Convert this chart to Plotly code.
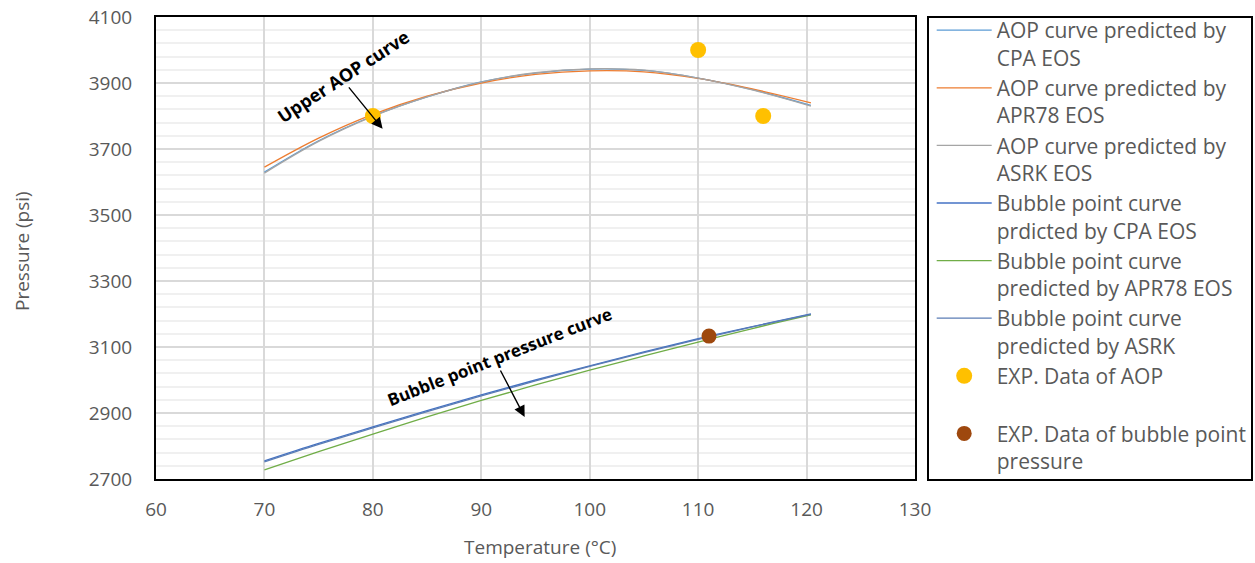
import plotly.graph_objects as go

# ---------------- data ----------------
temp = [70, 75, 80, 85, 90, 95, 100, 105, 110, 115, 120.4]

aop_cpa   = [3630, 3725, 3800, 3858, 3903, 3930, 3942, 3938, 3915, 3880, 3832]
aop_apr78 = [3645, 3733, 3805, 3860, 3900, 3926, 3937, 3934, 3914, 3882, 3840]
aop_asrk  = [3627, 3723, 3799, 3858, 3903, 3931, 3943, 3939, 3915, 3879, 3830]

bub_cpa   = [2755, 2808, 2858, 2907, 2955, 3000, 3043, 3085, 3125, 3162, 3200]
bub_apr78 = [2728, 2783, 2836, 2888, 2938, 2985, 3030, 3073, 3115, 3156, 3197]
bub_asrk  = [2752, 2805, 2855, 2904, 2952, 2997, 3041, 3083, 3123, 3161, 3199]

exp_aop_t = [80, 110, 116]
exp_aop_p = [3800, 4000, 3800]
exp_bub_t = [111]
exp_bub_p = [3133]

names = [
    "AOP curve predicted by<br>CPA EOS",
    "AOP curve predicted by<br>APR78 EOS",
    "AOP curve predicted by<br>ASRK EOS",
    "Bubble point curve<br>prdicted by CPA EOS",
    "Bubble point curve<br>predicted by APR78 EOS",
    "Bubble point curve<br>predicted by ASRK",
    "EXP. Data of AOP<br> ",
    "EXP. Data of bubble point<br>pressure",
]

FONT = "Open Sans"
TXT = "#595959"
fig = go.Figure()

line_series = [
    (aop_cpa, "#5B9BD5"),
    (aop_apr78, "#ED7D31"),
    (aop_asrk, "#A5A5A5"),
    (bub_cpa, "#4472C4"),
    (bub_apr78, "#70AD47"),
    (bub_asrk, "#5B7DB5"),
]
for i, (vals, col) in enumerate(line_series):
    fig.add_trace(go.Scatter(x=temp, y=vals, mode="lines", name=names[i],
                             line=dict(color=col, width=1.3, shape="spline"),
                             legendgroup=str(i)))

fig.add_trace(go.Scatter(x=exp_aop_t, y=exp_aop_p, mode="markers", name=names[6],
                         marker=dict(color="#FFC000", size=16), legendgroup="6"))
fig.add_trace(go.Scatter(x=exp_bub_t, y=exp_bub_p, mode="markers", name=names[7],
                         marker=dict(color="#9E480E", size=15), legendgroup="7"))

PW, PH = 759, 462
L, T = 156, 17
R = 1255 - L - PW
B = 563 - T - PH


def px_x(img_x):
    return (img_x - L) / PW


def px_y(img_y):
    return (563 - B - img_y) / PH


fig.update_layout(
    width=1255, height=563,
    margin=dict(l=L, r=R, t=T, b=B, autoexpand=False),
    paper_bgcolor="white", plot_bgcolor="white",
    font=dict(family=FONT, color=TXT, size=18),
    showlegend=True,
    legend=dict(x=1.022, y=1.015, xanchor="left", yanchor="top",
                font=dict(family=FONT, size=21, color=TXT),
                traceorder="grouped", tracegroupgap=0, itemwidth=55,
                valign="top", maxheight=560,
                bgcolor="rgba(0,0,0,0)"),
    xaxis=dict(range=[60, 130], tick0=60, dtick=10, showgrid=True,
               gridcolor="#D9D9D9", gridwidth=2, zeroline=False,
               showline=True, mirror=True, linecolor="black", linewidth=2,
               ticks="", ticklabelstandoff=12, automargin=False,
               tickfont=dict(size=19, color=TXT)),
    yaxis=dict(range=[2700, 4100], tick0=2700, dtick=200, showgrid=True,
               gridcolor="#D9D9D9", gridwidth=2, zeroline=False,
               showline=True, mirror=True, linecolor="black", linewidth=2,
               ticks="", ticklabelstandoff=18, automargin=False,
               tickfont=dict(size=19, color=TXT),
               minor=dict(tick0=2700, dtick=40, showgrid=True, gridcolor="#F0F0F0", gridwidth=2)),
)

# axis titles
fig.add_annotation(x=px_x(540), y=px_y(547), xref="paper", yref="paper",
                   xanchor="center", yanchor="middle",
                   text="Temperature (°C)", showarrow=False,
                   font=dict(family=FONT, size=19, color=TXT))
fig.add_annotation(x=px_x(22), y=px_y(251), xref="paper", yref="paper",
                   xanchor="center", yanchor="middle",
                   text="Pressure (psi)", showarrow=False, textangle=-90,
                   font=dict(family=FONT, size=19, color=TXT))

# legend frame
fig.add_shape(type="rect", xref="paper", yref="paper",
              x0=px_x(928), x1=px_x(1252), y0=px_y(480), y1=1.0,
              line=dict(color="black", width=2))

# annotations
fig.add_annotation(x=80.9, y=3761, ax=-35, ay=-43, xref="x", yref="y",
                   axref="pixel", ayref="pixel", text="", showarrow=True,
                   arrowhead=2, arrowsize=1.6, arrowwidth=1.4, arrowcolor="black")
fig.add_annotation(x=77.3, y=3920, xref="x", yref="y", text="<b>Upper AOP curve</b>",
                   showarrow=False, textangle=-33,
                   font=dict(family=FONT, size=18, color="black"))
fig.add_annotation(x=94.0, y=2888, ax=-25, ay=-48, xref="x", yref="y",
                   axref="pixel", ayref="pixel", text="", showarrow=True,
                   arrowhead=2, arrowsize=1.6, arrowwidth=1.4, arrowcolor="black")
fig.add_annotation(x=91.7, y=3070, xref="x", yref="y", text="<b>Bubble point pressure curve</b>",
                   showarrow=False, textangle=-21.5,
                   font=dict(family=FONT, size=17, color="black"))

fig.write_html("out.html", config={"displayModeBar": False},
               post_script="document.body.style.margin='0';")
